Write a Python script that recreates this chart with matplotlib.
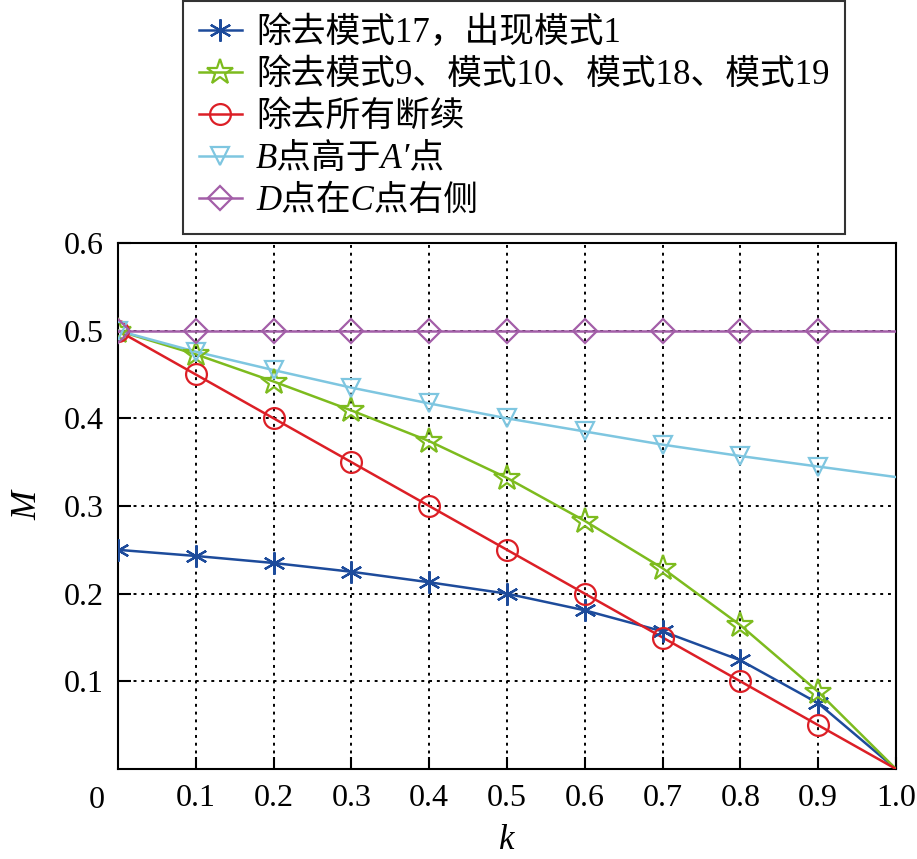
import matplotlib
matplotlib.use("Agg")
import matplotlib.pyplot as plt

plt.rcParams['font.family'] = ['Liberation Serif', 'Noto Sans CJK SC']
plt.rcParams['axes.unicode_minus'] = False

k = [0.0, 0.1, 0.2, 0.3, 0.4, 0.5, 0.6, 0.7, 0.8, 0.9, 1.0]
m_mode17 = [0.25, 0.243, 0.235, 0.225, 0.213, 0.2, 0.181, 0.157, 0.124, 0.075, 0.0]
m_mode9 = [0.5, 0.473, 0.442, 0.409, 0.374, 0.332, 0.283, 0.229, 0.164, 0.088, 0.0]
m_all = [0.5, 0.45, 0.4, 0.35, 0.3, 0.25, 0.2, 0.15, 0.1, 0.05, 0.0]
m_b = [0.5, 0.476, 0.455, 0.435, 0.417, 0.4, 0.385, 0.37, 0.357, 0.345, 0.333]
m_d = [0.5, 0.5, 0.5, 0.5, 0.5, 0.5, 0.5, 0.5, 0.5, 0.5, 0.5]

labels = ['除去模式17，出现模式1', '除去模式9、模式10、模式18、模式19',
          '除去所有断续', 'B点高于A′点', 'D点在C点右侧']
colors = ['#1d4b9b', '#7dbb1e', '#dc1f26', '#7ec6e0', '#a35ea8']
markers = [(6, 2, 0), '*', 'o', 'v', 'D']
msizes = [16, 19, 15, 13, 12]
series = [m_mode17, m_mode9, m_all, m_b, m_d]

xticks = [0.1, 0.2, 0.3, 0.4, 0.5, 0.6, 0.7, 0.8, 0.9, 1.0]
xticklabels = ['0.1', '0.2', '0.3', '0.4', '0.5', '0.6', '0.7', '0.8', '0.9', '1.0']
yticks = [0.1, 0.2, 0.3, 0.4, 0.5, 0.6]
yticklabels = ['0.1', '0.2', '0.3', '0.4', '0.5', '0.6']

fig = plt.figure(figsize=(9.17, 8.59), dpi=100)
ax = fig.add_axes([118/917, 1-769/859, (896-118)/917, (769-243)/859])

handles = []
for y, lab, c, mk, ms in zip(series, labels, colors, markers, msizes):
    ax.plot(k, y, color=c, lw=1.8, zorder=3)
    ax.plot(k[:-1], y[:-1], ls='none', marker=mk, ms=ms, mfc='none', mec=c,
            mew=1.6, zorder=4)
    hl, = ax.plot([], [], color=c, lw=1.8, marker=mk, ms=ms, mfc='none', mec=c, mew=1.6)
    handles.append(hl)

ax.set_xlim(0, 1.0)
ax.set_ylim(0, 0.6)
ax.set_xticks(xticks)
ax.set_xticklabels(xticklabels)
ax.set_yticks(yticks)
ax.set_yticklabels(yticklabels)
ax.tick_params(direction='in', length=9, width=1.5, labelsize=23, pad=10,
               top=False, right=False)
ax.tick_params(axis='x', pad=11)
ax.grid(True, color='black', ls=(0, (1.5, 2.5)), lw=1.4)
for s in ax.spines.values():
    s.set_linewidth(1.5)

fig.text(97/917, 1-800/859, '0', fontsize=23, ha='center', va='center')
ax.set_xlabel('k', fontsize=25, style='italic', labelpad=8)
ax.set_ylabel('M', fontsize=25, style='italic', labelpad=14)

leg = fig.legend(handles, labels, loc='upper center',
                 bbox_to_anchor=(514/917, 1-1/859), fontsize=25,
                 frameon=True, fancybox=False, edgecolor='black',
                 handlelength=1.25, handletextpad=0.4, labelspacing=0.26,
                 borderpad=0.45, borderaxespad=0)
leg.get_frame().set_linewidth(1.5)
for t in leg.get_texts()[3:]:
    t.set_fontstyle('italic')

fig.savefig('out.png', dpi=100)
